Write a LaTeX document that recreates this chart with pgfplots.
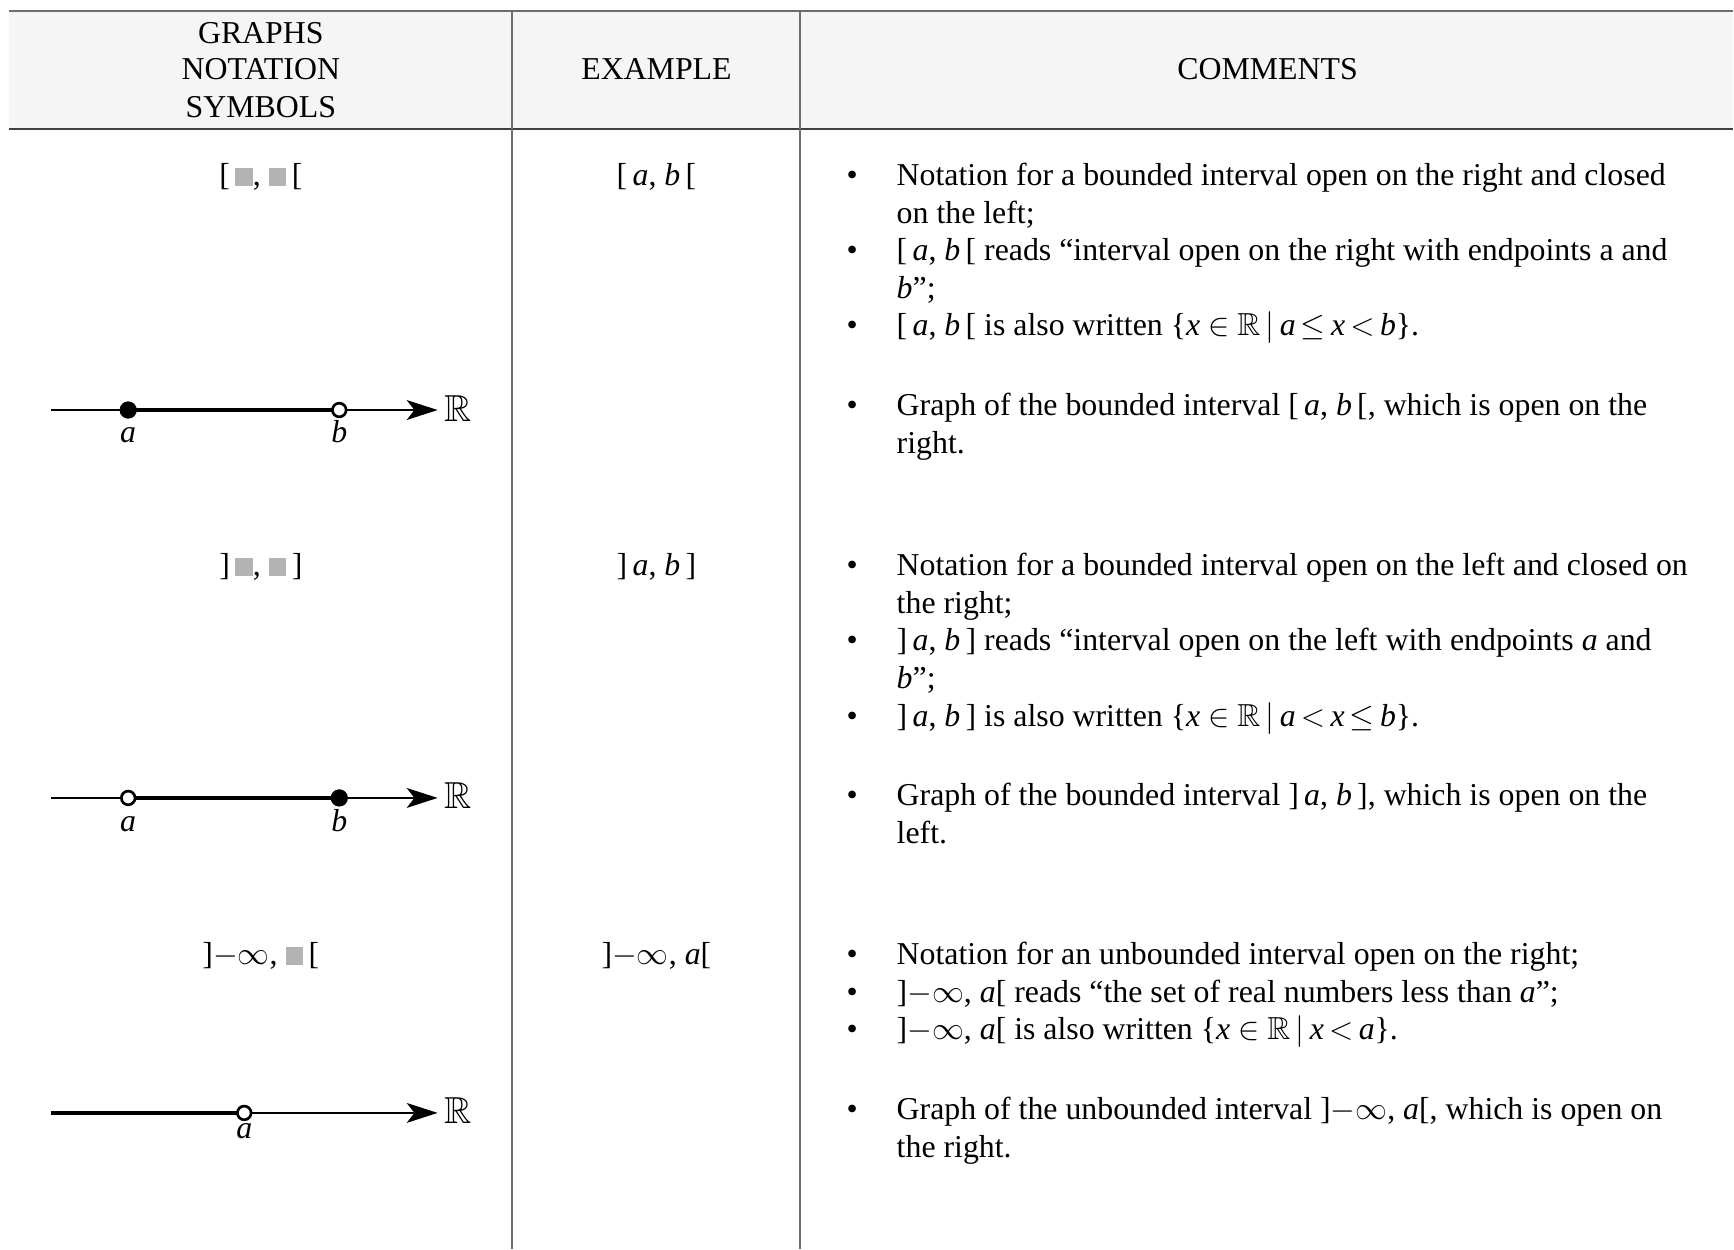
\documentclass[border=0pt]{standalone}
\usepackage{fontspec}
\setmainfont{Liberation Serif}
\usepackage{amssymb}
\usepackage{pgfplots}
\pgfplotsset{compat=1.18}
\usetikzlibrary{arrows.meta}

\definecolor{hdrfill}{HTML}{F5F5F5}
\definecolor{rulegray}{HTML}{6E6E6E}
\definecolor{boxgray}{HTML}{B3B3B3}

\newcommand{\sq}{\textcolor{boxgray}{\rule[0pt]{8pt}{8pt}}}
\newcommand{\ia}{\textit{a}}
\newcommand{\ib}{\textit{b}}
\newcommand{\ix}{\textit{x}}
\newcommand{\bR}{$\mathbb{R}$}
\newcommand{\bRbig}{{\fontsize{17}{17}\selectfont$\mathbb{R}$}}
% text line helpers (pixel coords of the table, y downwards)
\newcommand{\txt}[3]{\node[anchor=base west,inner sep=0pt] at (axis cs:#1,#2) {#3};}
\newcommand{\ctr}[3]{\node[anchor=base,inner sep=0pt] at (axis cs:#1,#2) {#3};}
\newcommand{\bul}[2]{\ctr{771}{#1}{\textbullet}\txt{811}{#1}{#2}}

\begin{document}
\begin{tikzpicture}[every node/.style={font=\fontsize{14.4}{17}\selectfont}]
\begin{axis}[
  scale only axis, width=784pt, height=565pt,
  xmin=0, xmax=1568, ymin=0, ymax=1130, y dir=reverse,
  hide axis, clip=false,
]
% frame so the page keeps the full size
\addplot[draw=none] coordinates {(0,0)(1568,1130)};

% header band and rules
\addplot[fill=hdrfill, draw=none] coordinates {(8,10)(1568,10)(1568,117)(8,117)} -- cycle;
\addplot[rulegray, line width=1pt] coordinates {(8,10)(1568,10)};
\addplot[black!75, line width=1pt] coordinates {(8,117)(1568,117)};
\addplot[rulegray, line width=1pt] coordinates {(463,10)(463,1130)};
\addplot[rulegray, line width=1pt] coordinates {(724,10)(724,1130)};

% header text
\ctr{236}{39}{GRAPHS}
\ctr{236}{72}{NOTATION}
\ctr{236}{106}{SYMBOLS}
\ctr{594}{72}{EXAMPLE}
\ctr{1147}{72}{COMMENTS}

% ---- row 1: [a, b[
\ctr{236}{168}{[\,\sq,\ \sq\,[}
\ctr{594}{168}{[\,\ia, \ib\,[}
\bul{168}{Notation for a bounded interval open on the right and closed}
\txt{811}{202}{on the left;}
\bul{236}{[\,\ia, \ib\,[ reads “interval open on the right with endpoints a and}
\txt{811}{270}{\ib”;}
\bul{304}{[\,\ia, \ib\,[ is also written \{\ix\ $\in$\ \bR\,$\bigm|$\,\ia\,$\leq$\,\ix\,$<$\,\ib\}.}
\bul{376}{Graph of the bounded interval [\,\ia, \ib\,[, which is open on the}
\txt{811}{410}{right.}

\addplot[line width=0.6pt, -{Stealth[length=14pt,width=9pt,inset=3.5pt]}] coordinates {(46,371)(396,371)};
\addplot[line width=2pt] coordinates {(116,371)(307,371)};
\addplot[only marks, mark=*, mark size=3.7pt, black] coordinates {(116,371)};
\addplot[only marks, mark=*, mark size=3.1pt, mark options={fill=white, draw=black, line width=1.2pt}] coordinates {(307,371)};
\ctr{116}{400}{\ia}
\ctr{307}{400}{\ib}
\txt{402}{381}{\bRbig}

% ---- row 2: ]a, b]
\ctr{236}{521}{]\,\sq,\ \sq\,]}
\ctr{594}{521}{]\,\ia, \ib\,]}
\bul{521}{Notation for a bounded interval open on the left and closed on}
\txt{811}{555}{the right;}
\bul{589}{]\,\ia, \ib\,] reads “interval open on the left with endpoints \ia\ and}
\txt{811}{623}{\ib”;}
\bul{657}{]\,\ia, \ib\,] is also written \{\ix\ $\in$\ \bR\,$\bigm|$\,\ia\,$<$\,\ix\,$\leq$\,\ib\}.}
\bul{729}{Graph of the bounded interval ]\,\ia, \ib\,], which is open on the}
\txt{811}{763}{left.}

\addplot[line width=0.6pt, -{Stealth[length=14pt,width=9pt,inset=3.5pt]}] coordinates {(46,722)(396,722)};
\addplot[line width=2pt] coordinates {(116,722)(307,722)};
\addplot[only marks, mark=*, mark size=3.7pt, black] coordinates {(307,722)};
\addplot[only marks, mark=*, mark size=3.1pt, mark options={fill=white, draw=black, line width=1.2pt}] coordinates {(116,722)};
\ctr{116}{752}{\ia}
\ctr{307}{752}{\ib}
\txt{402}{732}{\bRbig}

% ---- row 3: ]-inf, a[
\ctr{236}{873}{]$-\infty$,\ \sq\,[}
\ctr{594}{873}{]$-\infty$, \ia[}
\bul{873}{Notation for an unbounded interval open on the right;}
\bul{907}{]$-\infty$, \ia[ reads “the set of real numbers less than \ia”;}
\bul{941}{]$-\infty$, \ia[ is also written \{\ix\ $\in$\ \bR\,$\bigm|$\,\ix\,$<$\,\ia\}.}
\bul{1013}{Graph of the unbounded interval ]$-\infty$, \ia[, which is open on}
\txt{811}{1047}{the right.}

\addplot[line width=0.6pt, -{Stealth[length=14pt,width=9pt,inset=3.5pt]}] coordinates {(221,1007)(396,1007)};
\addplot[line width=2pt] coordinates {(46,1007)(221,1007)};
\addplot[only marks, mark=*, mark size=3.1pt, mark options={fill=white, draw=black, line width=1.2pt}] coordinates {(221,1007)};
\ctr{221}{1030}{\ia}
\txt{402}{1017}{\bRbig}
\end{axis}
\end{tikzpicture}
\end{document}
